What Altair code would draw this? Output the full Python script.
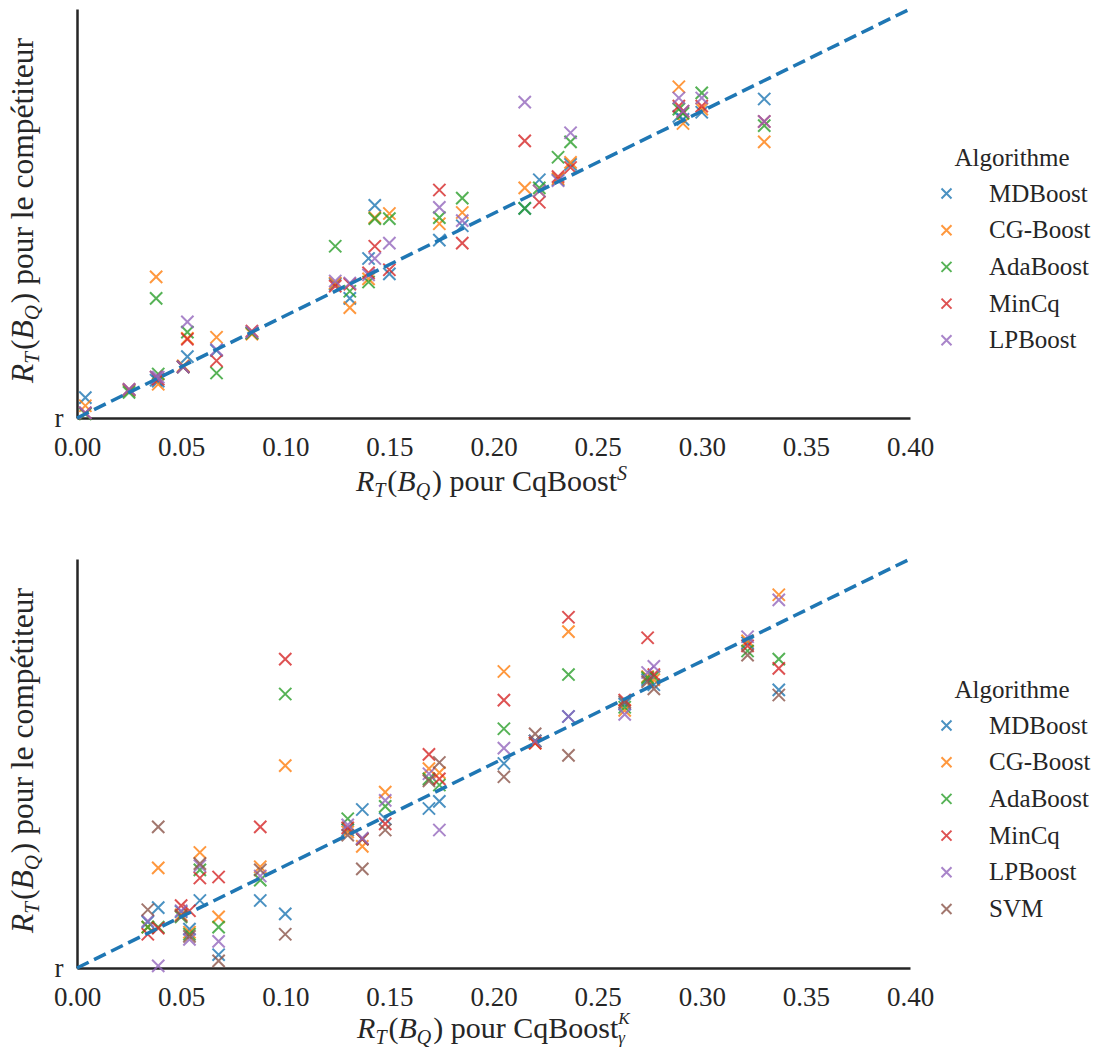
import altair as alt
import pandas as pd

FONT = "Liberation Serif"
INK = "#262626"
W, H = 833, 409

ALGOS_TOP = ["MDBoost", "CG-Boost", "AdaBoost", "MinCq", "LPBoost"]
ALGOS_BOT = ["MDBoost", "CG-Boost", "AdaBoost", "MinCq", "LPBoost", "SVM"]
COLORS = ["#1f77b4", "#ff7f0e", "#2ca02c", "#d62728", "#9467bd", "#8c564b"]
XSHAPE = "M-1,-1L1,1M-1,1L1,-1"
X_TICKS = [0.0, 0.05, 0.10, 0.15, 0.20, 0.25, 0.30, 0.35, 0.40]
DIAG = [0.0, 0.4]

# ---- top panel: R_T(B_Q) for CqBoost^S (x) vs competitor (y)
X_TOP = [0.004, 0.025, 0.038, 0.039, 0.051, 0.053, 0.067, 0.084, 0.124, 0.131, 0.140, 0.143,
         0.150, 0.174, 0.185, 0.215, 0.222, 0.231, 0.237, 0.289, 0.291, 0.300, 0.330]
MD_TOP = [0.020, 0.027, 0.037, 0.036, 0.050, 0.060, 0.066, 0.083, 0.131, 0.117, 0.156, 0.208,
          0.141, 0.174, 0.188, 0.205, 0.233, 0.233, 0.248, 0.295, 0.292, 0.299, 0.312]
CG_TOP = [0.012, 0.027, 0.138, 0.033, 0.051, 0.078, 0.079, 0.082, 0.132, 0.108, 0.136, 0.196,
          0.200, 0.190, 0.201, 0.225, 0.222, 0.234, 0.250, 0.324, 0.288, 0.302, 0.270]
ADA_TOP = [0.004, 0.025, 0.117, 0.043, 0.050, 0.084, 0.044, 0.083, 0.168, 0.124, 0.133, 0.195,
           0.195, 0.196, 0.215, 0.205, 0.225, 0.255, 0.270, 0.302, 0.298, 0.318, 0.286]
MINCQ_TOP = [0.005, 0.028, 0.040, 0.038, 0.050, 0.077, 0.056, 0.085, 0.129, 0.131, 0.142, 0.168,
             0.145, 0.223, 0.171, 0.271, 0.211, 0.236, 0.245, 0.305, 0.300, 0.305, 0.290]
LP_TOP = [0.005, 0.028, 0.040, 0.040, 0.050, 0.094, 0.067, 0.084, 0.134, 0.132, 0.140, 0.156,
          0.171, 0.206, 0.193, 0.309, 0.222, 0.232, 0.279, 0.313, 0.300, 0.313, 0.290]

# ---- bottom panel: R_T(B_Q) for CqBoost^K_gamma (x) vs competitor (y)
X_BOT = [0.034, 0.039, 0.050, 0.054, 0.059, 0.068, 0.088, 0.100, 0.130, 0.137, 0.148, 0.169,
         0.174, 0.205, 0.220, 0.236, 0.263, 0.274, 0.277, 0.322, 0.337]
MD_BOT = [0.045, 0.059, 0.055, 0.038, 0.066, 0.013, 0.066, 0.053, 0.135, 0.155, 0.146, 0.156,
          0.163, 0.200, 0.222, 0.246, 0.258, 0.282, 0.277, 0.318, 0.272]
CG_BOT = [0.040, 0.098, 0.052, 0.035, 0.113, 0.050, 0.099, 0.198, 0.133, 0.119, 0.172, 0.195,
          0.191, 0.290, 0.220, 0.329, 0.252, 0.285, 0.282, 0.320, 0.365]
ADA_BOT = [0.040, 0.040, 0.050, 0.033, 0.096, 0.040, 0.086, 0.268, 0.146, 0.126, 0.158, 0.185,
           0.179, 0.234, 0.222, 0.287, 0.255, 0.284, 0.285, 0.310, 0.302]
MINCQ_BOT = [0.033, 0.039, 0.061, 0.056, 0.088, 0.089, 0.138, 0.302, 0.137, 0.126, 0.141, 0.209,
             0.185, 0.262, 0.220, 0.343, 0.262, 0.323, 0.287, 0.315, 0.293]
LP_BOT = [0.046, 0.002, 0.056, 0.028, 0.100, 0.026, 0.090, None, 0.140, 0.127, 0.164, 0.190,
          0.135, 0.215, 0.222, 0.246, 0.248, 0.289, 0.295, 0.324, 0.360]
SVM_BOT = [0.057, 0.138, 0.051, 0.031, 0.102, 0.007, 0.096, 0.033, 0.130, 0.097, 0.135, 0.183,
           0.201, 0.187, 0.229, 0.208, 0.260, 0.280, 0.273, 0.306, 0.267]


def long_df(xs, algos, series):
    rows = []
    for algo, ys in zip(algos, series):
        for x, y in zip(xs, ys):
            if y is not None:
                rows.append({"cq": x, "comp": y, "algo": algo})
    return pd.DataFrame(rows)


df_top = long_df(X_TOP, ALGOS_TOP, [MD_TOP, CG_TOP, ADA_TOP, MINCQ_TOP, LP_TOP])
df_bot = long_df(X_BOT, ALGOS_BOT, [MD_BOT, CG_BOT, ADA_BOT, MINCQ_BOT, LP_BOT, SVM_BOT])
df_diag = pd.DataFrame({"cq": DIAG, "comp": DIAG})

# approximate glyph advance widths (em) for the serif font
REG = {' ': 0.25, 'p': 0.5, 'o': 0.5, 'u': 0.5, 'r': 0.333, 'l': 0.278, 'e': 0.444, 'c': 0.444,
       'm': 0.778, 'é': 0.444, 't': 0.278, 'i': 0.278, 'C': 0.667, 'q': 0.5, 'B': 0.667,
       's': 0.389, '(': 0.333, ')': 0.333}
ITA = {'R': 0.611, 'T': 0.556, 'B': 0.611, 'Q': 0.722, 'S': 0.5, 'K': 0.667, 'γ': 0.45}


def seg_width(text, italic, size):
    table = ITA if italic else REG
    return sum(table.get(c, 0.5) for c in text) * size


def math_title(tail, script, big):
    small = round(big * 0.68)
    # pieces: (text, italic, size, shift(+down), advance)
    p = [("R", True, big, 0, True), ("T", True, small, 6, True), (" ", False, 8, 0, True),
         ("(", False, big, 0, True), ("B", True, big, 0, True), ("Q", True, small, 6, True),
         (" ", False, 8, 0, True), (")", False, big, 0, True), (" ", False, big, 0, True),
         (tail, False, big, 0, True)]
    p += list(script)
    return p


def place(pieces, vertical, center, base):
    total = sum(seg_width(t, it, s) for t, it, s, sh, adv in pieces if adv)
    layers = []
    pos = 0
    one = pd.DataFrame({"k": [0]})
    for t, it, s, sh, adv in pieces:
        if t.strip():
            if vertical:
                x = base + sh
                y = center + total / 2 - pos
                ang = 270
            else:
                x = center - total / 2 + pos
                y = base + sh
                ang = 0
            layers.append(
                alt.Chart(one).mark_text(
                    text=t, font=FONT, fontSize=s, fontStyle="italic" if it else "normal",
                    align="left", baseline="alphabetic", angle=ang, color=INK
                ).encode(x=alt.value(x), y=alt.value(y))
            )
        if adv:
            pos += seg_width(t, it, s)
    return layers


def panel(df, algos, script, legend_y, title_base):
    xsc = alt.Scale(domain=[0, 0.4], nice=False)
    ysc = alt.Scale(domain=[0, 0.4], nice=False)
    xaxis = alt.Axis(values=X_TICKS, format=".2f", title=None, grid=False, ticks=False,
                     labelFlush=False, labelPadding=16, labelFont=FONT, labelFontSize=27,
                     labelColor=INK, domainColor=INK, domainWidth=2.5)
    yaxis = alt.Axis(values=[0], labelExpr="'r'", title=None, grid=False, ticks=False,
                     labelPadding=14, labelFont=FONT, labelFontSize=27, labelColor=INK,
                     domainColor=INK, domainWidth=2.5)
    legend = alt.Legend(title="Algorithme", orient="none", legendX=857,
                        legendY=legend_y, symbolType=XSHAPE, symbolSize=100,
                        symbolStrokeWidth=2, labelFont=FONT, labelFontSize=25,
                        labelColor=INK, labelOffset=30, titleFont=FONT, titleFontSize=25,
                        titleFontWeight="normal", titleColor=INK, titleAnchor="middle",
                        rowPadding=10.7, titlePadding=10)
    pts = alt.Chart(df).mark_point(shape=XSHAPE, filled=False, strokeWidth=2, size=150,
                                   opacity=0.8).encode(
        x=alt.X("cq:Q", scale=xsc, axis=xaxis),
        y=alt.Y("comp:Q", scale=ysc, axis=yaxis),
        color=alt.Color("algo:N", scale=alt.Scale(domain=algos, range=COLORS[:len(algos)]),
                        legend=legend),
    )
    line = alt.Chart(df_diag).mark_line(strokeDash=[13, 6], strokeWidth=3.5,
                                        color="#1f77b4").encode(
        x=alt.X("cq:Q", scale=xsc), y=alt.Y("comp:Q", scale=ysc))
    xt = place(math_title("pour CqBoost", script, 30), False, W / 2 - 2, title_base)
    yt = place(math_title("pour le compétiteur", [], 31.5), True, H / 2 - 3, -44)
    return alt.layer(pts, line, *xt, *yt).properties(width=W, height=H)


# (text, italic, size, shift(+down), advance)
script_top = [("S", True, 20, -11, True)]
script_bot = [("K", True, 17, -14, False), ("γ", True, 17, 5, True)]

top = panel(df_top, ALGOS_TOP, script_top, 137, 482)
bot = panel(df_bot, ALGOS_BOT, script_bot, 119, 479)

chart = alt.vconcat(top, bot, spacing=51).resolve_scale(color="independent").properties(
    padding={"left": 7, "top": 2, "right": 5, "bottom": 2}
).configure_view(strokeWidth=0, strokeOpacity=0)

chart.save("out.html", embed_options={"renderer": "svg", "actions": False})
